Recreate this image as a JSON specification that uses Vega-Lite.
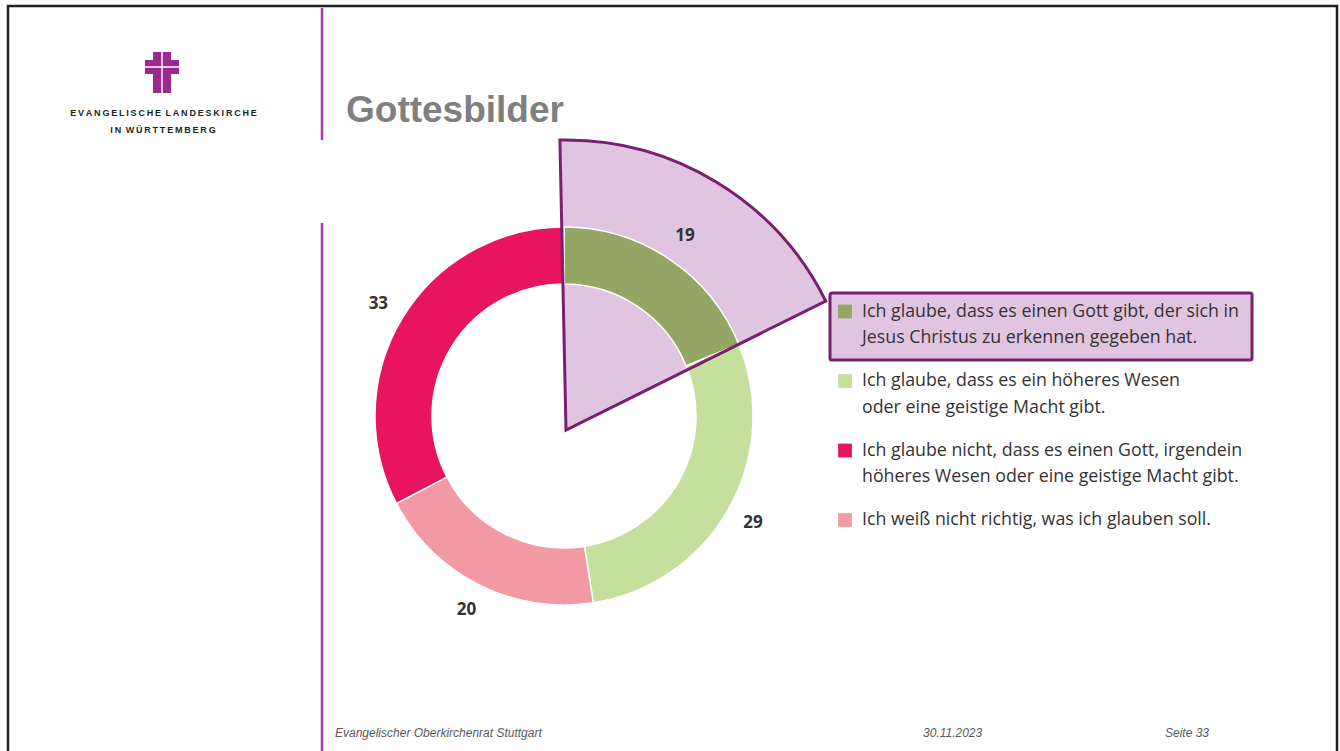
{
  "$schema": "https://vega.github.io/schema/vega-lite/v6.json",
  "width": 1340,
  "height": 751,
  "autosize": {"type": "none"},
  "padding": 0,
  "background": "white",
  "config": {"view": {"stroke": null}, "axis": {"disable": true}, "legend": {"disable": true}, "font": "Open Sans"},
  "data": {"values": [
    {"cat": "Christus", "value": 19, "pieOrder": 1, "label": "Ich glaube, dass es einen Gott gibt, der sich in\nJesus Christus zu erkennen gegeben hat."},
    {"cat": "Wesen", "value": 29, "pieOrder": 2, "label": "Ich glaube, dass es ein höheres Wesen\noder eine geistige Macht gibt."},
    {"cat": "KeinGott", "value": 33, "pieOrder": 4, "label": "Ich glaube nicht, dass es einen Gott, irgendein\nhöheres Wesen oder eine geistige Macht gibt."},
    {"cat": "WeissNicht", "value": 20, "pieOrder": 3, "label": "Ich weiß nicht richtig, was ich glauben soll."}
  ]},
  "resolve": {"scale": {"y": "independent"}},
  "layer": [
    {
      "layer": [
        {
          "data": {"values": [{}]},
          "mark": {"type": "rect", "filled": false, "color": "#231f20", "strokeWidth": 2.5},
          "encoding": {
            "x": {"datum": 8, "type": "quantitative", "scale": {"domain": [0, 1340], "nice": false, "zero": false}, "axis": null},
            "x2": {"datum": 1337},
            "y": {"datum": 6, "type": "quantitative", "scale": {"domain": [0, 751], "reverse": true, "nice": false, "zero": false}, "axis": null},
            "y2": {"datum": 790}
          }
        },
        {
          "data": {"values": [{}]},
          "mark": {"type": "rule", "color": "#b036ac", "strokeWidth": 2.5},
          "encoding": {
            "x": {"datum": 322, "type": "quantitative", "scale": {"domain": [0, 1340], "nice": false, "zero": false}, "axis": null},
            "y": {"datum": 8, "type": "quantitative", "scale": {"domain": [0, 751], "reverse": true, "nice": false, "zero": false}, "axis": null},
            "y2": {"datum": 140}
          }
        },
        {
          "data": {"values": [{}]},
          "mark": {"type": "rule", "color": "#b036ac", "strokeWidth": 2.5},
          "encoding": {
            "x": {"datum": 322, "type": "quantitative", "scale": {"domain": [0, 1340], "nice": false, "zero": false}, "axis": null},
            "y": {"datum": 223, "type": "quantitative", "scale": {"domain": [0, 751], "reverse": true, "nice": false, "zero": false}, "axis": null},
            "y2": {"datum": 760}
          }
        },
        {
          "data": {"values": [{}]},
          "mark": {"type": "point", "filled": true, "color": "#9b2a8d", "opacity": 1, "strokeWidth": 0, "size": 1681,
            "shape": "M-0.44,-1L-0.035,-1L-0.035,-0.31L-0.83,-0.31L-0.83,-0.61L-0.44,-0.61Z M0.035,-1L0.44,-1L0.44,-0.61L0.83,-0.61L0.83,-0.31L0.035,-0.31Z M-0.83,-0.23L-0.035,-0.23L-0.035,1L-0.44,1L-0.44,0.07L-0.83,0.07Z M0.035,-0.23L0.83,-0.23L0.83,0.07L0.44,0.07L0.44,1L0.035,1Z"},
          "encoding": {
            "x": {"datum": 162, "type": "quantitative", "scale": {"domain": [0, 1340], "nice": false, "zero": false}, "axis": null},
            "y": {"datum": 72.5, "type": "quantitative", "scale": {"domain": [0, 751], "reverse": true, "nice": false, "zero": false}, "axis": null}
          }
        },
        {
          "data": {"values": [{}]},
          "mark": {"type": "text", "text": "E\u2009V\u2009A\u2009N\u2009G\u2009E\u2009L\u2009I\u2009S\u2009C\u2009H\u2009E\u2002L\u2009A\u2009N\u2009D\u2009E\u2009S\u2009K\u2009I\u2009R\u2009C\u2009H\u2009E", "font": "Liberation Sans", "fontWeight": "bold", "fontSize": 9, "color": "#231f20", "align": "center", "baseline": "alphabetic"},
          "encoding": {
            "x": {"datum": 163.5, "type": "quantitative", "scale": {"domain": [0, 1340], "nice": false, "zero": false}, "axis": null},
            "y": {"datum": 116, "type": "quantitative", "scale": {"domain": [0, 751], "reverse": true, "nice": false, "zero": false}, "axis": null}
          }
        },
        {
          "data": {"values": [{}]},
          "mark": {"type": "text", "text": "I\u2009N\u2002W\u2009Ü\u2009R\u2009T\u2009T\u2009E\u2009M\u2009B\u2009E\u2009R\u2009G", "font": "Liberation Sans", "fontWeight": "bold", "fontSize": 9, "color": "#231f20", "align": "center", "baseline": "alphabetic"},
          "encoding": {
            "x": {"datum": 163, "type": "quantitative", "scale": {"domain": [0, 1340], "nice": false, "zero": false}, "axis": null},
            "y": {"datum": 133, "type": "quantitative", "scale": {"domain": [0, 751], "reverse": true, "nice": false, "zero": false}, "axis": null}
          }
        },
        {
          "data": {"values": [{}]},
          "mark": {"type": "text", "text": "Gottesbilder", "font": "Liberation Sans", "fontWeight": "bold", "fontSize": 37, "color": "#7f7f7f", "align": "left", "baseline": "alphabetic"},
          "encoding": {
            "x": {"datum": 346, "type": "quantitative", "scale": {"domain": [0, 1340], "nice": false, "zero": false}, "axis": null},
            "y": {"datum": 122, "type": "quantitative", "scale": {"domain": [0, 751], "reverse": true, "nice": false, "zero": false}, "axis": null}
          }
        },
        {
          "data": {"values": [{}]},
          "mark": {"type": "text", "text": "Evangelischer Oberkirchenrat Stuttgart", "font": "Liberation Sans Narrow, Liberation Sans", "fontStyle": "italic", "fontSize": 12, "color": "#595959", "align": "left", "baseline": "alphabetic"},
          "encoding": {
            "x": {"datum": 335, "type": "quantitative", "scale": {"domain": [0, 1340], "nice": false, "zero": false}, "axis": null},
            "y": {"datum": 737, "type": "quantitative", "scale": {"domain": [0, 751], "reverse": true, "nice": false, "zero": false}, "axis": null}
          }
        },
        {
          "data": {"values": [{}]},
          "mark": {"type": "text", "text": "30.11.2023", "font": "Liberation Sans Narrow, Liberation Sans", "fontStyle": "italic", "fontSize": 12, "color": "#595959", "align": "left", "baseline": "alphabetic"},
          "encoding": {
            "x": {"datum": 923, "type": "quantitative", "scale": {"domain": [0, 1340], "nice": false, "zero": false}, "axis": null},
            "y": {"datum": 737, "type": "quantitative", "scale": {"domain": [0, 751], "reverse": true, "nice": false, "zero": false}, "axis": null}
          }
        },
        {
          "data": {"values": [{}]},
          "mark": {"type": "text", "text": "Seite 33", "font": "Liberation Sans Narrow, Liberation Sans", "fontStyle": "italic", "fontSize": 12, "color": "#595959", "align": "left", "baseline": "alphabetic"},
          "encoding": {
            "x": {"datum": 1165, "type": "quantitative", "scale": {"domain": [0, 1340], "nice": false, "zero": false}, "axis": null},
            "y": {"datum": 737, "type": "quantitative", "scale": {"domain": [0, 751], "reverse": true, "nice": false, "zero": false}, "axis": null}
          }
        },
        {
          "data": {"values": [{}]},
          "mark": {"type": "arc", "theta": -0.021, "theta2": 1.11, "radius": 290, "radius2": 0, "fill": "#dfc5df", "stroke": null},
          "encoding": {
            "x": {"datum": 566, "type": "quantitative", "scale": {"domain": [0, 1340], "nice": false, "zero": false}, "axis": null},
            "y": {"datum": 430, "type": "quantitative", "scale": {"domain": [0, 751], "reverse": true, "nice": false, "zero": false}, "axis": null}
          }
        },
        {
          "mark": {"type": "arc", "radius": 189, "radius2": 132, "stroke": "white", "strokeWidth": 1.5},
          "encoding": {
            "theta": {"field": "value", "type": "quantitative", "stack": true},
            "order": {"field": "pieOrder", "type": "quantitative"},
            "color": {"field": "cat", "type": "nominal", "legend": null,
              "scale": {"domain": ["Christus", "Wesen", "KeinGott", "WeissNicht"], "range": ["#94a564", "#c5e09c", "#e8145f", "#f29aa3"]}},
            "x": {"datum": 564, "type": "quantitative", "scale": {"domain": [0, 1340], "nice": false, "zero": false}, "axis": null},
            "y": {"datum": 416, "type": "quantitative", "scale": {"domain": [0, 751], "reverse": true, "nice": false, "zero": false}, "axis": null}
          }
        },
        {
          "data": {"values": [{}]},
          "mark": {"type": "arc", "theta": -0.021, "theta2": 1.11, "radius": 290, "radius2": 0, "filled": false, "fill": null, "stroke": "#7b1f70", "strokeWidth": 3, "strokeJoin": "miter"},
          "encoding": {
            "x": {"datum": 566, "type": "quantitative", "scale": {"domain": [0, 1340], "nice": false, "zero": false}, "axis": null},
            "y": {"datum": 430, "type": "quantitative", "scale": {"domain": [0, 751], "reverse": true, "nice": false, "zero": false}, "axis": null}
          }
        },
        {
          "mark": {"type": "text", "radius": 217, "font": "Open Sans", "fontWeight": "bold", "fontSize": 17, "color": "#333333", "align": "center", "baseline": "middle"},
          "encoding": {
            "theta": {"field": "value", "type": "quantitative", "stack": true},
            "order": {"field": "pieOrder", "type": "quantitative"},
            "text": {"field": "value", "type": "quantitative"},
            "x": {"datum": 564, "type": "quantitative", "scale": {"domain": [0, 1340], "nice": false, "zero": false}, "axis": null},
            "y": {"datum": 416, "type": "quantitative", "scale": {"domain": [0, 751], "reverse": true, "nice": false, "zero": false}, "axis": null}
          }
        }
      ]
    },
    {
      "layer": [
        {
          "transform": [{"filter": "datum.cat == 'Christus'"}],
          "mark": {"type": "rect", "fill": "#dfc5df", "stroke": "#7b1f70", "strokeWidth": 3, "cornerRadius": 2},
          "encoding": {
            "x": {"datum": 830, "type": "quantitative", "scale": {"domain": [0, 1340], "nice": false, "zero": false}, "axis": null},
            "x2": {"datum": 1252},
            "y": {"field": "cat", "type": "nominal", "axis": null,
              "scale": {"type": "band", "domain": ["Christus", "Wesen", "KeinGott", "WeissNicht"], "range": [293, 568.5], "paddingInner": 0.036, "paddingOuter": 0}}
          }
        },
        {
          "mark": {"type": "point", "shape": "square", "filled": true, "opacity": 1, "size": 190, "strokeWidth": 0},
          "encoding": {
            "x": {"datum": 845, "type": "quantitative", "scale": {"domain": [0, 1340], "nice": false, "zero": false}, "axis": null},
            "y": {"field": "cat", "type": "nominal", "axis": null, "bandPosition": 0.276,
              "scale": {"type": "band", "domain": ["Christus", "Wesen", "KeinGott", "WeissNicht"], "range": [293, 568.5], "paddingInner": 0.036, "paddingOuter": 0}},
            "color": {"field": "cat", "type": "nominal", "legend": null}
          }
        },
        {
          "mark": {"type": "text", "font": "Open Sans", "fontSize": 17.8, "color": "#333333", "align": "left", "baseline": "top", "dy": -8.5, "lineBreak": "\n", "lineHeight": 26.5},
          "encoding": {
            "x": {"datum": 862, "type": "quantitative", "scale": {"domain": [0, 1340], "nice": false, "zero": false}, "axis": null},
            "y": {"field": "cat", "type": "nominal", "axis": null, "bandPosition": 0.276,
              "scale": {"type": "band", "domain": ["Christus", "Wesen", "KeinGott", "WeissNicht"], "range": [293, 568.5], "paddingInner": 0.036, "paddingOuter": 0}},
            "text": {"field": "label", "type": "nominal"}
          }
        }
      ]
    }
  ]
}
